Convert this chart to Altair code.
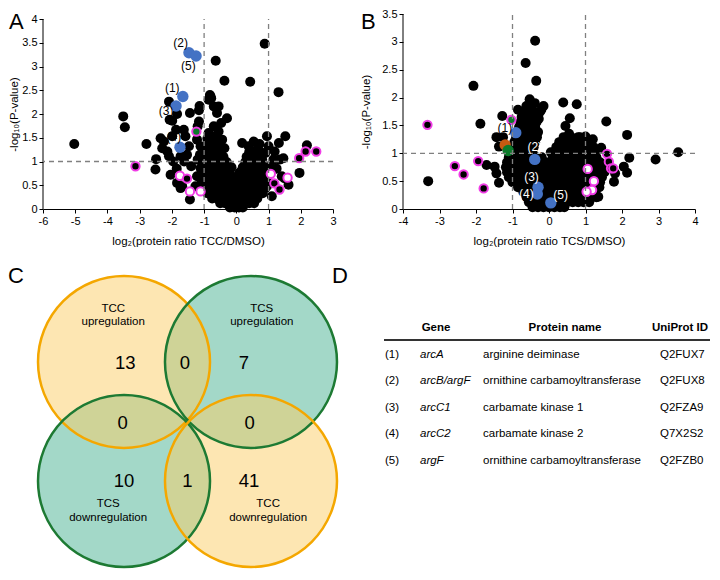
import altair as alt
import pandas as pd

FONT = "Liberation Sans, Arial, Helvetica, sans-serif"
BLUE = "#4472C4"
MAGENTA = "#F03CE6"
ORANGE_PT = "#C55A11"
GREEN_PT = "#0B7A2A"
GRAY = "#808080"

# ---------------- Panel A (TCC vs DMSO) ----------------
a_x_ticks = [-6, -5, -4, -3, -2, -1, 0, 1, 2, 3]
a_y_ticks = [0, 0.5, 1, 1.5, 2, 2.5, 3, 3.5, 4]
a_vthresh = [-1, 1]
a_hthresh = [1]

a_scatter_x = [0.88, -0.64, -0.37, 0.43, 1.31, -2.09, -0.82, -0.78, -3.51, -3.46,
               -5.03, -2.79, -2.35, -2.49, -2.51, -2.07, -1.99, -1.84, -1.44, -1.14,
               -1.16, -1.63, -1.58, -1.87, -1.99, -2.25, -2.30, -2.14, -2.09, -1.96,
               -1.73, -1.53, -1.47, -1.22, -1.11, -1.13, -1.20, -1.11, -2.04, -1.84,
               -1.68, -1.73, -1.44, -1.22, -1.27, -1.16, -1.20, -1.62, -1.40, -1.85,
               0.18, 0.38, 0.54, 0.72, 0.64, 0.90, 0.95, 1.00, 1.19, 1.32,
               1.52, 1.15, 1.34, 1.46, 1.41, 1.62, 1.49, 1.96, 2.19, 1.05,
               0.85, 0.95, 1.10, 1.25, 0.80,
               -0.80, -0.86, -0.70, -0.55, -0.60, -0.29, -0.47, -0.70, -0.55, -0.86,
               -0.65, -0.44, -0.80, -0.60, -0.37, -0.96, -0.90, -0.75, -0.50, -0.95,
               -0.82, -0.68, -0.52, -0.40]
a_scatter_y = [3.48, 3.12, 2.70, 2.68, 2.46, 2.26, 2.40, 2.33, 1.95, 1.72,
               1.37, 1.37, 1.49, 1.05, 0.83, 1.88, 1.86, 2.00, 2.02, 2.17,
               2.08, 1.67, 1.53, 1.67, 1.53, 1.42, 1.28, 1.21, 1.11, 1.00,
               1.11, 1.14, 1.32, 1.46, 1.32, 1.14, 1.04, 0.86, 0.72, 0.55,
               0.48, 0.44, 0.20, 0.69, 0.48, 1.84, 1.74, 1.00, 0.90, 0.85,
               1.39, 1.32, 1.42, 1.37, 1.25, 1.18, 1.53, 1.32, 1.21, 1.39,
               1.53, 1.04, 1.04, 1.07, 0.69, 0.51, 0.65, 0.76, 1.34, 0.90,
               0.76, 0.48, 0.27, 0.85, 1.05,
               2.37, 2.30, 2.16, 2.16, 2.02, 1.91, 1.81, 1.74, 1.63, 1.60,
               1.53, 1.46, 1.39, 1.32, 1.28, 1.32, 1.48, 1.45, 1.38, 1.20,
               1.22, 1.18, 1.15, 1.10]

a_blob_y = [0.03, 0.12, 0.22, 0.33, 0.44, 0.55, 0.66, 0.77, 0.88, 0.99, 1.10, 1.20]
a_blob_x = [
    [-0.2, -0.05, 0.08, 0.2],
    [-0.5, -0.35, -0.2, -0.05, 0.1, 0.25, 0.4, 0.55],
    [-0.75, -0.6, -0.42, -0.25, -0.1, 0.05, 0.2, 0.35, 0.5, 0.65],
    [-0.9, -0.72, -0.55, -0.38, -0.2, 0.0, 0.18, 0.35, 0.52, 0.7, 0.82],
    [-1.02, -0.85, -0.68, -0.5, -0.32, -0.15, 0.05, 0.22, 0.4, 0.58, 0.75, 0.9],
    [-1.08, -0.9, -0.72, -0.55, -0.38, -0.2, 0.0, 0.2, 0.38, 0.55, 0.72, 0.88],
    [-1.1, -0.93, -0.75, -0.58, -0.4, -0.22, -0.05, 0.15, 0.32, 0.5, 0.68, 0.85, 0.95],
    [-1.08, -0.9, -0.72, -0.55, -0.38, -0.2, 0.1, 0.28, 0.45, 0.62, 0.8, 0.93],
    [-1.05, -0.88, -0.7, -0.52, -0.35, -0.15, 0.2, 0.38, 0.55, 0.72, 0.88],
    [-1.0, -0.82, -0.65, -0.48, -0.3, 0.28, 0.45, 0.62, 0.78],
    [-0.92, -0.75, -0.6, -0.45, 0.32, 0.5, 0.68],
    [-0.85, -0.7, -0.55, 0.4, 0.58, 0.75],
]

a_ring_x = [-3.13, -1.75, -1.53, -1.44, -1.11, -1.24, 1.07, 1.18, 1.34, 1.59, 1.95, 2.15, 2.48]
a_ring_y = [0.90, 0.70, 0.64, 0.37, 0.37, 1.63, 0.74, 0.54, 0.41, 0.66, 1.07, 1.21, 1.21]
a_ring_fill = ["black", "white", "black", "white", "white", GREEN_PT, "white",
               "black", "black", "white", "black", "black", "black"]

a_col_x = [-1.47, -1.25, -1.66, -1.87, -1.75]
a_col_y = [3.29, 3.22, 2.37, 2.17, 1.30]
a_col_fill = [BLUE, BLUE, BLUE, BLUE, BLUE]

a_lab_t = ["(2)", "(5)", "(1)", "(3)", "(4)"]
a_lab_x = [-1.73, -1.49, -1.99, -2.18, -1.94]
a_lab_y = [3.50, 3.02, 2.54, 2.07, 1.51]
a_lab_c = ["black"] * 5

# ---------------- Panel B (TCS vs DMSO) ----------------
b_x_ticks = [-4, -3, -2, -1, 0, 1, 2, 3, 4]
b_y_ticks = [0, 0.5, 1, 1.5, 2, 2.5, 3, 3.5]
b_vthresh = [-1, 1]
b_hthresh = [1]

b_scatter_x = [-0.38, -0.64, -0.35, -2.07, 0.39, 0.76, -1.88, -1.28, -0.85, -0.66,
               -0.53, -0.62, -0.39, -0.21, -0.48, 0.57, 0.45, 1.57, 2.14, 2.20,
               2.05, 2.14, 2.92, 3.54, 1.78, 1.35, 1.43, 0.85, 0.66, -1.44,
               -1.26, -1.37, -1.71, -1.49, -1.44, -1.37, -3.31, 1.81, 0.55, 1.00,
               1.20, -0.15, -0.28]
b_scatter_y = [3.02, 2.62, 2.30, 2.21, 1.91, 1.88, 1.53, 1.67, 1.78, 1.66,
               1.97, 1.85, 1.90, 1.78, 1.78, 1.63, 1.49, 1.57, 1.33, 0.92,
               0.76, 0.65, 0.89, 1.02, 0.49, 0.22, 1.10, 1.29, 1.24, 1.29,
               1.29, 1.12, 0.79, 0.76, 0.64, 0.47, 0.50, 0.64, 1.35, 1.30,
               1.25, 1.85, 1.62]

b_blob_y = [0.03, 0.12, 0.21, 0.30, 0.39, 0.48, 0.57, 0.66, 0.75, 0.84, 0.93,
            1.02, 1.11, 1.20, 1.29, 1.38, 1.47, 1.56, 1.65, 1.74]
b_blob_x = [
    [-0.45, -0.3, -0.15, 0.0, 0.15, 0.3, 0.42],
    [-0.55, -0.4, -0.25, -0.1, 0.05, 0.2, 0.35, 0.5, 0.65, 0.8, 0.95, 1.1],
    [-0.62, -0.47, -0.32, -0.17, -0.02, 0.13, 0.28, 0.43, 0.58, 0.73, 0.88, 1.03, 1.18, 1.3],
    [-0.7, -0.55, -0.4, -0.25, -0.1, 0.05, 0.2, 0.35, 0.5, 0.65, 0.8, 0.95, 1.1, 1.25],
    [-0.85, -0.7, -0.55, -0.4, -0.25, -0.1, 0.05, 0.2, 0.35, 0.5, 0.65, 0.8, 0.95, 1.1, 1.25, 1.38],
    [-1.0, -0.85, -0.7, -0.55, -0.4, -0.25, -0.1, 0.05, 0.2, 0.35, 0.5, 0.65, 0.8, 0.95, 1.1, 1.25, 1.4],
    [-1.1, -0.95, -0.8, -0.65, -0.5, -0.35, -0.2, -0.05, 0.1, 0.25, 0.4, 0.55, 0.7, 0.85, 1.0, 1.15, 1.3, 1.45],
    [-1.15, -1.0, -0.85, -0.7, -0.55, -0.4, -0.25, -0.1, 0.05, 0.2, 0.35, 0.5, 0.65, 0.8, 0.95, 1.1, 1.25, 1.4, 1.52],
    [-1.18, -1.03, -0.88, -0.73, -0.58, -0.43, -0.28, -0.13, 0.02, 0.17, 0.32, 0.47, 0.62, 0.77, 0.92, 1.07, 1.22, 1.37, 1.5],
    [-1.15, -1.0, -0.85, -0.7, -0.55, -0.4, -0.25, -0.1, 0.05, 0.2, 0.35, 0.5, 0.65, 0.8, 0.95, 1.1, 1.25, 1.4],
    [-1.1, -0.95, -0.8, -0.65, -0.5, -0.35, -0.2, 0.1, 0.25, 0.4, 0.55, 0.7, 0.85, 1.0, 1.15, 1.3],
    [-1.05, -0.9, -0.75, -0.6, -0.45, 0.05, 0.2, 0.35, 0.5, 0.65, 0.8, 0.95, 1.1, 1.25],
    [-1.0, -0.85, -0.7, -0.55, -0.42, 0.2, 0.35, 0.5, 0.65, 0.8, 0.95, 1.1, 1.22],
    [-0.95, -0.8, -0.65, -0.5, -0.38, 0.28, 0.45, 0.62, 0.78, 0.95, 1.1],
    [-0.9, -0.75, -0.6, -0.45, -0.33, 0.4, 0.6, 0.8],
    [-0.85, -0.7, -0.55, -0.42, -0.3],
    [-0.82, -0.67, -0.52, -0.38],
    [-0.78, -0.63, -0.48, -0.34],
    [-0.75, -0.6, -0.45, -0.3],
    [-0.7, -0.55, -0.4, -0.25],
]

b_ring_x = [-3.33, -2.58, -2.34, -1.94, -1.79, -1.03, 1.59, 1.64, 1.70, 1.76, 1.06, 1.23, 1.18, 1.03]
b_ring_y = [1.51, 0.77, 0.62, 0.86, 0.37, 1.60, 0.99, 0.85, 0.73, 0.73, 0.72, 0.50, 0.34, 0.31]
b_ring_fill = ["black", "black", "black", "black", "black", GREEN_PT, "black",
               "black", "black", "black", "white", "white", "white", "white"]

b_col_x = [-0.91, -0.39, -0.30, -0.32, 0.05, -1.20, -1.12]
b_col_y = [1.37, 0.89, 0.39, 0.27, 0.11, 1.15, 1.05]
b_col_fill = [BLUE, BLUE, BLUE, BLUE, BLUE, ORANGE_PT, GREEN_PT]

b_lab_t = ["(1)", "(2)", "(3)", "(4)", "(5)"]
b_lab_x = [-1.21, -0.39, -0.48, -0.62, 0.32]
b_lab_y = [1.45, 1.12, 0.58, 0.27, 0.26]
b_lab_c = ["black", "white", "white", "white", "white"]

# ---------------- Panel C (Venn) ----------------
venn_cx = [-1, 1, -1, 1]
venn_cy = [1, 1, -1, -1]
venn_set = ["TCC", "TCS", "TCS", "TCC"]
venn_fill = ["#FBCD65", "#47B191", "#47B191", "#FBCD65"]
venn_stroke = ["#F4A700", "#1D7A33", "#1D7A33", "#F4A700"]

venn_lab_t = ["TCC", "upregulation", "TCS", "upregulation",
              "TCS", "downregulation", "TCC", "downregulation"]
venn_lab_x = [-1.17, -1.17, 1.17, 1.17, -1.25, -1.25, 1.27, 1.27]
venn_lab_y = [1.89, 1.68, 1.89, 1.68, -1.39, -1.63, -1.39, -1.63]

venn_cnt_t = ["13", "0", "7", "0", "0", "10", "1", "41"]
venn_cnt_x = [-0.98, -0.04, 0.89, -1.02, 0.98, -1.0, 0.0, 0.97]
venn_cnt_y = [0.98, 0.98, 0.98, -0.02, -0.02, -1.0, -1.0, -1.0]

# ---------------- Panel D (table) ----------------
d_headers = ["Gene", "Protein name", "UniProt ID"]
d_header_x = [52, 181, 296]
d_num = ["(1)", "(2)", "(3)", "(4)", "(5)"]
d_gene = ["arcA", "arcB/argF", "arcC1", "arcC2", "argF"]
d_protein = ["arginine deiminase", "ornithine carbamoyltransferase",
             "carbamate kinase 1", "carbamate kinase 2",
             "ornithine carbamoyltransferase"]
d_uniprot = ["Q2FUX7", "Q2FUX8", "Q2FZA9", "Q7X2S2", "Q2FZB0"]
d_row = [1, 2, 3, 4, 5]
d_rule_row = [0.45]


def flatten(rows_y, rows_x):
    xs, ys = [], []
    for y, row in zip(rows_y, rows_x):
        for x in row:
            xs.append(x)
            ys.append(y)
    return xs, ys


def volcano(sx, sy, bx, by, rx, ry, rf, cx, cy, cf, lx, ly, lt, lc,
            vth, hth, xdom, xticks, ydom, yticks, w, h, xtitle,
            letter, letter_dx, letter_dy, ytitle_x):
    xs = alt.Scale(domain=xdom, nice=False, zero=False)
    ys = alt.Scale(domain=ydom, nice=False, zero=False)
    xax = alt.Axis(values=xticks, title=xtitle, labelExpr="datum.value + ''",
                   tickSize=4, labelPadding=2, titlePadding=9, labelFlush=False,
                   labelOverlap=False)
    y_mid = h - h * (yticks[-1] / 2) / ydom[1]
    yax = alt.Axis(values=yticks, title="-log₁₀(P-value)", labelExpr="datum.value + ''",
                   tickSize=4, labelPadding=2, labelOverlap=False, domain=False,
                   titleX=ytitle_x, titleY=y_mid, titleAngle=270,
                   titleAlign="center", titleBaseline="middle")

    def X():
        return alt.X("x:Q", scale=xs, axis=xax)

    def Y():
        return alt.Y("y:Q", scale=ys, axis=yax)

    blx, bly = flatten(by, bx)
    black = pd.DataFrame({"x": sx + blx, "y": sy + bly})
    yline = alt.Chart(pd.DataFrame({"y": [yticks[0]], "y2": [yticks[-1]]})).mark_rule(
        color="black", strokeWidth=1).encode(x=alt.value(0), y=Y(), y2="y2:Q")
    pts = alt.Chart(black).mark_circle(size=100, color="black", opacity=1).encode(x=X(), y=Y())
    rings = alt.Chart(pd.DataFrame({"x": rx, "y": ry, "f": rf})).mark_point(
        shape="circle", filled=True, size=70, stroke=MAGENTA, strokeWidth=2, opacity=1
    ).encode(x=X(), y=Y(), fill=alt.Fill("f:N", scale=None))
    cols = alt.Chart(pd.DataFrame({"x": cx, "y": cy, "f": cf})).mark_circle(
        size=130, opacity=1).encode(x=X(), y=Y(), color=alt.Color("f:N", scale=None))
    vl = alt.Chart(pd.DataFrame({"x": vth, "y": [yticks[0]] * len(vth),
                                 "y2": [yticks[-1]] * len(vth)})).mark_rule(
        color=GRAY, strokeDash=[5, 4], strokeWidth=1.3).encode(x=X(), y=Y(), y2="y2:Q")
    hl = alt.Chart(pd.DataFrame({"y": hth})).mark_rule(
        color=GRAY, strokeDash=[5, 4], strokeWidth=1.3).encode(y=Y())
    labs = alt.Chart(pd.DataFrame({"x": lx, "y": ly, "t": lt, "c": lc})).mark_text(
        fontSize=12).encode(x=X(), y=Y(), text="t:N", color=alt.Color("c:N", scale=None))
    let = alt.Chart(pd.DataFrame({"t": [letter]})).mark_text(
        fontSize=22, align="left", baseline="top", color="black"
    ).encode(x=alt.value(letter_dx), y=alt.value(letter_dy), text="t:N")
    return alt.layer(yline, pts, rings, cols, vl, hl, labs, let).properties(width=w, height=h)


chart_a = volcano(a_scatter_x, a_scatter_y, a_blob_x, a_blob_y,
                  a_ring_x, a_ring_y, a_ring_fill, a_col_x, a_col_y, a_col_fill,
                  a_lab_x, a_lab_y, a_lab_t, a_lab_c, a_vthresh, a_hthresh,
                  [-6, 3], a_x_ticks, [0, 4.1053], a_y_ticks, 290, 195,
                  "log₂(protein ratio TCC/DMSO)", "A", -34, -2, -29)

chart_b = volcano(b_scatter_x, b_scatter_y, b_blob_x, b_blob_y,
                  b_ring_x, b_ring_y, b_ring_fill, b_col_x, b_col_y, b_col_fill,
                  b_lab_x, b_lab_y, b_lab_t, b_lab_c, b_vthresh, b_hthresh,
                  [-4, 4], b_x_ticks, [0, 3.5], b_y_ticks, 292, 195,
                  "log₂(protein ratio TCS/DMSO)", "B", -42, -2, -36.5)

# ---- Venn ----
vx = alt.Scale(domain=[-2.276, 2.591], nice=False, zero=False)
vy = alt.Scale(domain=[-2.445, 2.613], nice=False, zero=False)
venn = pd.DataFrame({"x": venn_cx, "y": venn_cy, "set": venn_set,
                     "fill": venn_fill, "stroke": venn_stroke})
VSIZE = 29584


def VX():
    return alt.X("x:Q", scale=vx, axis=None)


def VY():
    return alt.Y("y:Q", scale=vy, axis=None)


green_fill = alt.Chart(venn[venn["set"] == "TCS"]).mark_point(
    shape="circle", filled=True, size=VSIZE, opacity=1, fillOpacity=0.5, strokeWidth=0
).encode(x=VX(), y=VY(), fill=alt.Fill("fill:N", scale=None))
orange_fill = alt.Chart(venn[venn["set"] == "TCC"]).mark_point(
    shape="circle", filled=True, size=VSIZE, opacity=1, fillOpacity=0.5, strokeWidth=0
).encode(x=VX(), y=VY(), fill=alt.Fill("fill:N", scale=None))
outlines = alt.Chart(venn).mark_point(
    shape="circle", filled=False, size=VSIZE, opacity=1, strokeWidth=2.5
).encode(x=VX(), y=VY(), color=alt.Color("stroke:N", scale=None))
venn_labels = alt.Chart(pd.DataFrame({"x": venn_lab_x, "y": venn_lab_y, "t": venn_lab_t})).mark_text(
    fontSize=11.5, color="black").encode(x=VX(), y=VY(), text="t:N")
venn_counts = alt.Chart(pd.DataFrame({"x": venn_cnt_x, "y": venn_cnt_y, "t": venn_cnt_t})).mark_text(
    fontSize=18.5, color="black").encode(x=VX(), y=VY(), text="t:N")
letter_c = alt.Chart(pd.DataFrame({"t": ["C"]})).mark_text(
    fontSize=22, align="left", baseline="top", color="black"
).encode(x=alt.value(-35), y=alt.value(0), text="t:N")
letter_d = alt.Chart(pd.DataFrame({"t": ["D"]})).mark_text(
    fontSize=22, align="left", baseline="top", color="black"
).encode(x=alt.value(289), y=alt.value(0), text="t:N")

chart_c = alt.layer(green_fill, orange_fill, outlines, venn_labels, venn_counts,
                    letter_c, letter_d).properties(width=309, height=301)

# ---- Table ----
dy = alt.Scale(domain=[-2.331, 8.985], reverse=True, nice=False, zero=False)
dx = alt.Scale(domain=[0, 326], nice=False, zero=False)
rows = pd.DataFrame({"r": d_row, "num": d_num, "gene": d_gene,
                     "protein": d_protein, "uni": d_uniprot})


def DY():
    return alt.Y("r:Q", scale=dy, axis=None)


hdr = alt.Chart(pd.DataFrame({"hx": d_header_x, "t": d_headers, "r": [0, 0, 0]})).mark_text(
    fontSize=11.5, fontWeight="bold", align="center", baseline="middle", color="black"
).encode(x=alt.X("hx:Q", scale=dx, axis=None), y=DY(), text="t:N")
rule = alt.Chart(pd.DataFrame({"r": d_rule_row})).mark_rule(
    color="#333333", strokeWidth=2).encode(y=DY())
t_num = alt.Chart(rows).mark_text(fontSize=11.5, align="left", baseline="middle", color="black").encode(
    x=alt.value(1), y=DY(), text="num:N")
t_gene = alt.Chart(rows).mark_text(fontSize=11.5, fontStyle="italic", align="left",
                                   baseline="middle", color="black").encode(
    x=alt.value(36), y=DY(), text="gene:N")
t_prot = alt.Chart(rows).mark_text(fontSize=11.5, align="left", baseline="middle", color="black").encode(
    x=alt.value(99), y=DY(), text="protein:N")
t_uni = alt.Chart(rows).mark_text(fontSize=11.5, align="left", baseline="middle", color="black").encode(
    x=alt.value(276), y=DY(), text="uni:N")

chart_d = alt.layer(rule, hdr, t_num, t_gene, t_prot, t_uni).properties(width=326, height=301)

top = alt.hconcat(chart_a, chart_b, spacing=23)
bottom = alt.hconcat(chart_c, chart_d, spacing=32, bounds="flush")

chart = alt.vconcat(top, bottom, spacing=18).properties(padding=0).configure(
    font=FONT
).configure_view(strokeWidth=0).configure_axis(
    grid=False, domainColor="black", tickColor="black", labelColor="black",
    titleColor="black", labelFontSize=11, titleFontSize=11.5,
    titleFontWeight="normal", labelFont=FONT, titleFont=FONT, domainWidth=1, tickWidth=1
)

chart.save("out.html", embed_options={"renderer": "svg", "actions": False})
